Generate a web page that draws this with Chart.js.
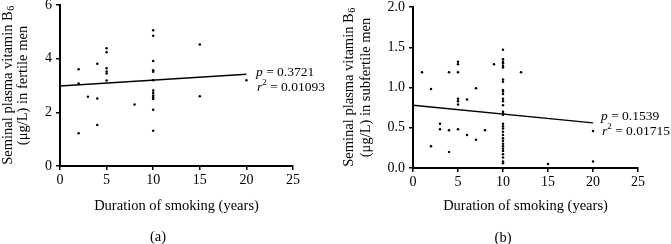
<!DOCTYPE html>
<html><head><meta charset="utf-8">
<script src="https://cdn.jsdelivr.net/npm/chart.js@4.4.1/dist/chart.umd.min.js"></script>
<style>
html,body{margin:0;padding:0;background:#fff;width:671px;height:244px;overflow:hidden;position:relative}
#ca{position:absolute;left:0;top:-6px}
#cb{position:absolute;left:335px;top:-4px}
</style></head>
<body>
<canvas id="ca" width="335" height="250"></canvas>
<canvas id="cb" width="336" height="248"></canvas>
<script>
// ---- Data ----
const yearsA = [2,2,2,3,4,4,4,5,5,5,5,5,5,8,10,10,10,10,10,10,10,10,10,10,10,10,10,15,15,20];
const b6A    = [3.61,3.07,1.22,2.58,3.81,2.52,1.53,4.39,4.24,3.64,3.52,3.45,3.19,2.29,5.06,4.85,3.91,3.57,3.51,3.2,2.81,2.72,2.63,2.56,2.5,2.1,1.31,4.53,2.6,3.2];
const fitXA  = [0,20];
const fitYA  = [2.98,3.42];
const statsA = ["0.3721","0.01093"];
const ticksYA = [0,2,4,6];

const yearsB = [1,2,2,3,3,4,4,4,5,5,5,5,5,5,5,6,6,7,7,8,9,
  10,10,10,10,10,10,10,10,10,10,10,10,10,10,10,10,10,10,10,10,10,10,10,10,10,10,10,10,10,10,10,10,
  12,15,20,20];
const b6B    = [1.19,0.98,0.27,0.55,0.48,1.19,0.47,0.2,1.32,1.29,1.19,0.86,0.83,0.79,0.48,0.85,0.41,0.99,0.35,0.47,1.29,
  1.47,1.35,1.32,1.30,1.27,1.25,1.10,1.07,0.97,0.95,0.92,0.86,0.83,0.78,0.70,0.68,0.66,0.55,0.52,0.49,0.45,0.41,0.37,0.34,0.30,0.27,0.24,0.21,0.17,0.13,0.08,0.06,
  1.19,0.05,0.46,0.08];
const fitXB  = [0,20];
const fitYB  = [0.78,0.56];
const statsB = ["0.1539","0.01715"];
const ticksYB = [0,0.5,1.0,1.5,2.0];

const ticksX = [0,5,10,15,20,25];
const xTitle = "Duration of smoking (years)";

const FONT = "'Liberation Serif', 'Times New Roman', serif";
const TS = 14.5;

const textPlugin = {
  id: 'texts',
  afterDraw(chart, args, o) {
    const ctx = chart.ctx;
    const ca = chart.chartArea;
    ctx.save();
    ctx.fillStyle = '#000';
    ctx.textBaseline = 'middle';
    // y title with subscript
    const cy = (ca.top + ca.bottom) / 2;
    ctx.font = `${TS}px ${FONT}`;
    const main = o.y1, sub = '6';
    const w1 = ctx.measureText(main).width;
    ctx.font = `10px ${FONT}`;
    const w2 = ctx.measureText(sub).width;
    ctx.save();
    ctx.translate(o.y1x, cy);
    ctx.rotate(-Math.PI/2);
    ctx.textAlign = 'left';
    ctx.font = `${TS}px ${FONT}`;
    ctx.fillText(main, -(w1+w2)/2, 0);
    ctx.font = `10px ${FONT}`;
    ctx.fillText(sub, -(w1+w2)/2 + w1 + 0.5, 3);
    ctx.restore();
    ctx.save();
    ctx.translate(o.y2x, cy);
    ctx.rotate(-Math.PI/2);
    ctx.textAlign = 'center';
    ctx.font = `${TS}px ${FONT}`;
    ctx.fillText(o.y2, 0, 0);
    ctx.restore();
    // stats
    ctx.textAlign = 'left';
    let x = o.sx;
    ctx.font = `italic 13.5px ${FONT}`;
    ctx.fillText('p', x, o.py);
    x += ctx.measureText('p').width;
    ctx.font = `13.5px ${FONT}`;
    ctx.fillText(' = ' + o.stats[0], x, o.py);
    x = o.sx + 1;
    ctx.font = `italic 13.5px ${FONT}`;
    ctx.fillText('r', x, o.ry);
    x += ctx.measureText('r').width;
    ctx.font = `9px ${FONT}`;
    ctx.fillText('2', x, o.ry - 4);
    x += ctx.measureText('2').width;
    ctx.font = `13.5px ${FONT}`;
    ctx.fillText(' = ' + o.stats[1], x, o.ry);
    // panel label
    ctx.textAlign = 'center';
    ctx.font = `${TS}px ${FONT}`;
    ctx.fillText(o.label, o.lx, o.ly);
    ctx.restore();
  }
};

function makeChart(id, xs, ys, fx, fy, yMax, yTicks, yDec, yW, padR, xH, texts) {
  const pts = xs.map((x, i) => ({x, y: ys[i]}));
  const fit = fx.map((x, i) => ({x, y: fy[i]}));
  return new Chart(document.getElementById(id), {
    type: 'scatter',
    data: { datasets: [
      { data: pts, pointRadius: 1.25, pointHoverRadius: 1.25, backgroundColor: '#000', borderColor: '#000', borderWidth: 0 },
      { type: 'line', data: fit, borderColor: '#000', borderWidth: 1.4, pointRadius: 0, fill: false }
    ]},
    plugins: [textPlugin],
    options: {
      responsive: false, animation: false, devicePixelRatio: 1,
      layout: { padding: { left: 0, right: padR, top: 0, bottom: 0 } },
      plugins: { legend: { display: false }, tooltip: { enabled: false }, texts },
      scales: {
        x: {
          type: 'linear', min: 0, max: 25,
          afterBuildTicks: s => { s.ticks = ticksX.map(v => ({value: v})); },
          afterFit: s => { s.height = xH; },
          ticks: { color: '#000', font: { family: FONT, size: 14 }, padding: 2, maxRotation: 0 },
          grid: { drawOnChartArea: false, drawTicks: true, tickLength: 4, color: '#000', lineWidth: 1.5 },
          border: { color: '#000', width: 2 },
          title: { display: true, text: xTitle, color: '#000', font: { family: FONT, size: TS }, padding: { top: 0, bottom: 29 } }
        },
        y: {
          type: 'linear', min: 0, max: yMax,
          afterBuildTicks: s => { s.ticks = yTicks.map(v => ({value: v})); },
          afterFit: s => { s.width = yW; },
          ticks: { color: '#000', font: { family: FONT, size: 14, lineHeight: 1 }, padding: 4, callback: v => v.toFixed(yDec) },
          grid: { drawOnChartArea: false, drawTicks: true, tickLength: 4, color: '#000', lineWidth: 1.5 },
          border: { color: '#000', width: 2 }
        }
      }
    }
  });
}

makeChart('ca', yearsA, b6A, fitXA, fitYA, 6, ticksYA, 0, 60, 42, 78,
  { y1: 'Seminal plasma vitamin B', y2: '(\u03bcg/L) in fertile men', y1x: 8, y2x: 23,
    stats: statsA, sx: 256, py: 78, ry: 93, label: '(a)', lx: 158, ly: 243 });
makeChart('cb', yearsB, b6B, fitXB, fitYB, 2.0, ticksYB, 1, 78, 33, 76,
  { y1: 'Seminal plasma vitamin B', y2: '(\u03bcg/L) in subfertile men', y1x: 14, y2x: 31,
    stats: statsB, sx: 266, py: 120, ry: 135, label: '(b)', lx: 168, ly: 242 });
</script>
</body></html>
